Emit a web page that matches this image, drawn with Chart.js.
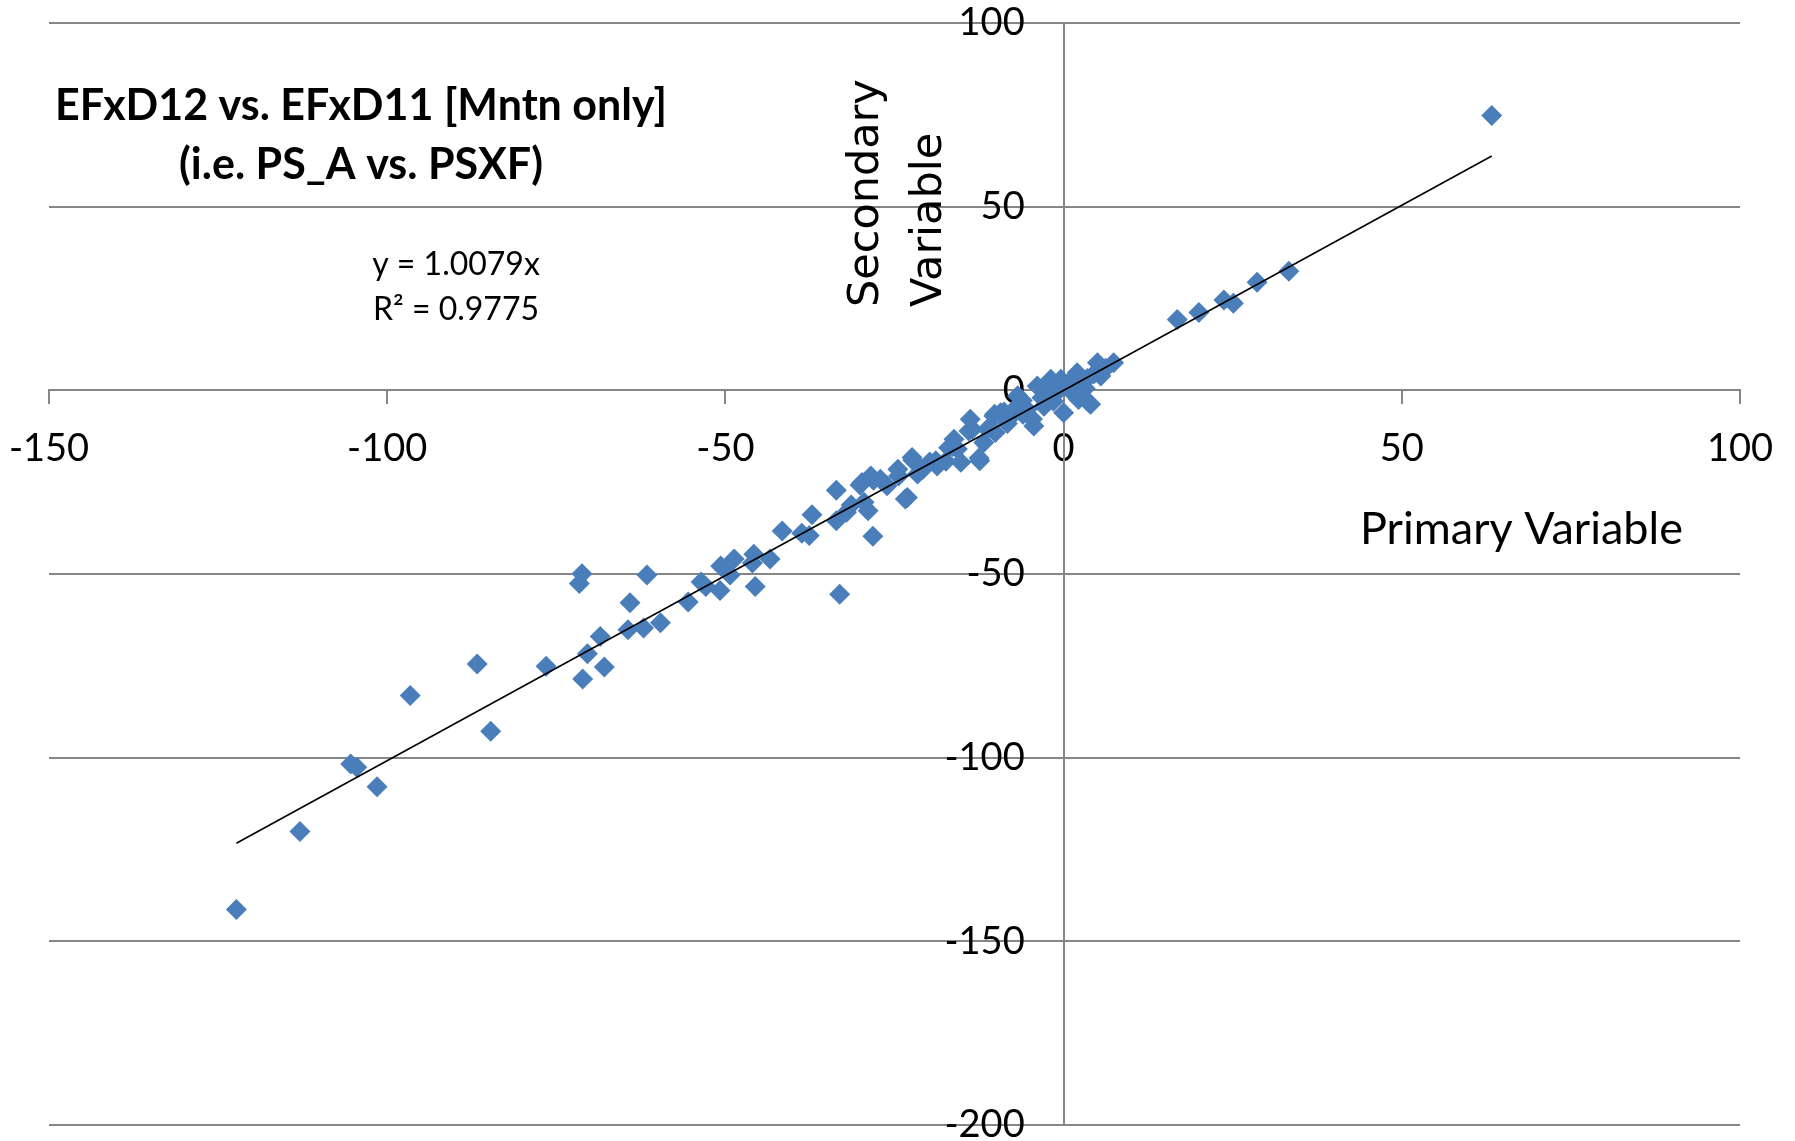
<!DOCTYPE html>
<html>
<head>
<meta charset="utf-8">
<script src="https://cdn.jsdelivr.net/npm/chart.js@4/dist/chart.umd.min.js"></script>
<style>
  body { margin: 0; background: #fff; }
  #wrap { width: 1795px; height: 1141px; position: relative; }
</style>
</head>
<body>
<div id="wrap"><canvas id="chart"></canvas></div>
<script>
// values (primary = x, secondary = y)
const primaryX = [
  -122.3, -112.9, -105.4, -104.5, -101.5, -96.6, -86.7, -84.7, -76.5, -71.2,
  -71.6, -71.1, -70.4, -68.5, -67.9, -64.1, -64.4, -62.1, -61.6, -59.6,
  -55.5, -53.6, -52.9, -50.7, -50.8, -49.3, -48.7, -45.8, -46.0, -45.6,
  -43.4, -41.6, -38.7, -37.6, -37.2, -33.6, -33.6, -33.1, -32.1, -31.4,
  -30.1, -29.5, -29.8, -28.9, -28.2, -28.1, -28.5, -27.1, -26.1, -24.4,
  -24.5, -23.4, -23.1, -22.4, -22.3, -21.6, -20.8, -19.8, -18.9, -18.7,
  -17.4, -17.0, -16.4, -16.2, -15.7, -15.2, -14.0, -13.8, -13.5, -12.4,
  -12.5, -11.8, -11.3, -10.3, -10.2, -10.1, -9.3, -8.8, -8.3, -8.0,
  -7.2, -6.8, -6.6, -6.1, -6.0, -5.4, -4.6, -4.4, -3.9, -3.2,
  -2.9, -2.3, -1.9, -1.5, -1.0, -0.8, -0.4, 0.0, 0.8, 1.0,
  1.5, 2.0, 2.2, 2.8, 3.2, 3.5, 3.7, 4.0, 4.5, 5.0,
  5.5, 6.2, 7.4, 16.8, 20.0, 23.7, 25.1, 28.6, 33.3, 63.3
];
const secondaryY = [
  -141.3, -120.1, -101.7, -102.6, -107.9, -83.1, -74.5, -92.8, -75.1, -49.9,
  -52.6, -78.6, -71.7, -67.0, -75.3, -57.8, -65.2, -64.7, -50.3, -63.3,
  -57.6, -52.2, -53.4, -47.8, -54.5, -50.3, -45.9, -44.6, -47.0, -53.4,
  -45.9, -38.3, -38.9, -39.5, -33.9, -27.2, -35.5, -55.5, -33.2, -31.2,
  -25.8, -30.5, -25.1, -32.8, -39.7, -24.5, -23.3, -24.2, -26.0, -23.3,
  -21.5, -29.6, -29.2, -18.3, -19.0, -22.8, -21.5, -19.5, -19.2, -20.6,
  -19.3, -15.6, -15.3, -13.3, -16.0, -19.6, -11.1, -7.9, -10.6, -19.2,
  -18.4, -14.2, -10.6, -7.0, -6.5, -11.5, -6.1, -5.9, -9.0, -7.5,
  -5.0, -1.5, -4.7, -2.8, -6.5, -5.2, -7.8, -9.7, 1.2, -2.0,
  -4.3, -1.2, 3.0, -3.0, -0.5, 1.5, 3.0, -6.1, 1.2, 2.5,
  -1.0, 4.8, -2.5, 2.0, 0.5, 3.2, -3.3, -3.8, 4.5, 7.5,
  3.9, 6.0, 7.5, 19.3, 21.2, 24.6, 23.7, 29.4, 32.4, 74.8
];
// trendline end points as drawn in the picture
const trendX = [-122.3, 63.3];
const trendY = [-123.3, 63.8];
const xTicks = [-150, -100, -50, 0, 50, 100];
const yTicks = [-200, -150, -100, -50, 0, 50, 100];

const titleLines = ['EFxD12 vs. EFxD11 [Mntn only]', '(i.e. PS_A vs. PSXF)'];
const equationLines = ['y = 1.0079x', 'R\u00b2 = 0.9775'];
const yTitleLines = ['Secondary', 'Variable'];
const xTitle = 'Primary Variable';

const gridGray = '#868686';
const markerBlue = '#4a7ebb';

const points = primaryX.map((x, i) => ({ x: x, y: secondaryY[i] }));
const trend = trendX.map((x, i) => ({ x: x, y: trendY[i] }));

// free text: title, regression box, axis titles
const textPlugin = {
  id: 'chartText',
  afterDraw(chart) {
    const ctx = chart.ctx;
    ctx.save();
    ctx.fillStyle = '#000';
    ctx.textAlign = 'center';
    ctx.textBaseline = 'middle';

    ctx.font = 'bold 43px Lato';
    ctx.fillText(titleLines[0], 361, 106);
    ctx.fillText(titleLines[1], 361, 165);

    ctx.font = '32px Lato';
    ctx.fillText(equationLines[0], 456, 265);
    ctx.fillText(equationLines[1], 456, 310);

    ctx.font = '45px Lato';
    ctx.textAlign = 'left';
    ctx.fillText(xTitle, 1360, 529);

    ctx.font = '43px "DejaVu Sans"';
    ctx.translate(0, 307);
    ctx.rotate(-Math.PI / 2);
    ctx.fillText(yTitleLines[0], 0, 867);
    ctx.fillText(yTitleLines[1], 0, 930);
    ctx.restore();
  }
};

Chart.defaults.font.family = 'Lato';
Chart.defaults.color = '#000';

new Chart(document.getElementById('chart'), {
  type: 'scatter',
  data: {
    datasets: [
      {
        label: 'Linear',
        type: 'line',
        data: trend,
        borderColor: '#000',
        borderWidth: 1.6,
        pointRadius: 0,
        fill: false,
        order: 0
      },
      {
        label: 'Series1',
        data: points,
        pointStyle: 'rectRot',
        pointRadius: 10.5,
        pointBackgroundColor: markerBlue,
        pointBorderColor: markerBlue,
        pointBorderWidth: 0,
        order: 1
      }
    ]
  },
  options: {
    responsive: true,
    maintainAspectRatio: false,
    animation: false,
    layout: { autoPadding: false, padding: { left: 49, right: 55, top: 23, bottom: 16 } },
    plugins: {
      legend: { display: false },
      tooltip: { enabled: false }
    },
    scales: {
      x: {
        type: 'linear',
        position: { y: 0 },
        min: -150,
        max: 100,
        afterBuildTicks: (axis) => { axis.ticks = xTicks.map(v => ({ value: v })); },
        afterFit: (axis) => { axis.paddingLeft = 0; axis.paddingRight = 0; },
        grid: {
          drawOnChartArea: false,
          drawTicks: true,
          tickLength: 13,
          color: gridGray,
          lineWidth: 2
        },
        border: { color: gridGray, width: 2 },
        ticks: { font: { size: 38 }, padding: 23, autoSkip: false, maxRotation: 0 }
      },
      y: {
        type: 'linear',
        position: { x: 0 },
        min: -200,
        max: 100,
        afterBuildTicks: (axis) => { axis.ticks = yTicks.map(v => ({ value: v })); },
        afterFit: (axis) => { axis.paddingTop = 0; axis.paddingBottom = 0; },
        grid: {
          drawTicks: false,
          color: gridGray,
          lineWidth: 2
        },
        border: { color: gridGray, width: 2 },
        ticks: {
          font: { size: 38 },
          autoSkip: false,
          // spaces keep the labels off the axis line, as in the picture
          callback: (v) => v + '    '
        }
      }
    }
  },
  plugins: [textPlugin]
});
</script>
</body>
</html>
